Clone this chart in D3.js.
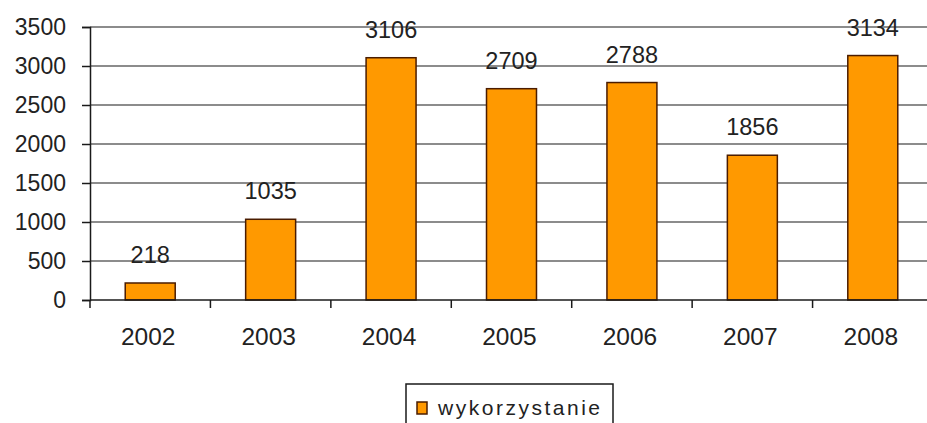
<!DOCTYPE html>
<html><head><meta charset="utf-8">
<script src="https://cdn.jsdelivr.net/npm/d3@7/dist/d3.min.js"></script>
<style>html,body{margin:0;padding:0;background:#fff;overflow:hidden}</style>
</head><body>
<svg id="c" width="927" height="423"></svg>
<script>
const categories = ["2002","2003","2004","2005","2006","2007","2008"];
const values = [218, 1035, 3106, 2709, 2788, 1856, 3134];
const yTicks = [0, 500, 1000, 1500, 2000, 2500, 3000, 3500];
const seriesName = "wykorzystanie";

(function () {
const svg = d3.select("#c");
const mLeft = 90, mRight = 933, mTop = 27, mBottom = 300;
const font = "'Liberation Sans', Arial, sans-serif";

const x = d3.scaleBand().domain(categories).range([mLeft, mRight])
  .paddingInner(0.585).paddingOuter(0.2925);
const y = d3.scaleLinear().domain([0, 3500]).range([mBottom, mTop]);

// gridlines
svg.append("g").selectAll("line").data(yTicks.filter(d => d > 0)).join("line")
  .attr("x1", mLeft).attr("x2", mRight)
  .attr("y1", d => y(d)).attr("y2", d => y(d))
  .attr("stroke", "#1a1a1a").attr("stroke-width", 1.2);

// y axis
const ya = svg.append("g").attr("transform", `translate(${mLeft},0)`)
  .call(d3.axisLeft(y).tickValues(yTicks).tickSize(8).tickPadding(16).tickFormat(d3.format("d")));
ya.select(".domain").attr("stroke", "#1a1a1a").attr("stroke-width", 1.5);
ya.selectAll(".tick line").attr("stroke", "#1a1a1a").attr("stroke-width", 1.5);
ya.selectAll("text").attr("font-family", font).attr("font-size", 23).attr("fill", "#222");

// bars
svg.append("g").selectAll("rect").data(values).join("rect")
  .attr("x", (d, i) => x(categories[i]))
  .attr("width", x.bandwidth())
  .attr("y", d => y(d))
  .attr("height", d => y(0) - y(d))
  .attr("fill", "#FF9900")
  .attr("stroke", "#4a1c00").attr("stroke-width", 1.5);

// x axis baseline
svg.append("line").attr("x1", mLeft).attr("x2", mRight)
  .attr("y1", y(0)).attr("y2", y(0)).attr("stroke", "#1a1a1a").attr("stroke-width", 1.5);

// x ticks at band boundaries
const bounds = d3.range(categories.length + 1).map(i => mLeft + i * x.step());
svg.append("g").selectAll("line").data(bounds).join("line")
  .attr("x1", d => d).attr("x2", d => d)
  .attr("y1", y(0)).attr("y2", y(0) + 8)
  .attr("stroke", "#1a1a1a").attr("stroke-width", 1.5);

// x labels
svg.append("g").selectAll("text").data(categories).join("text")
  .attr("x", d => x(d) + x.bandwidth() / 2 - 2)
  .attr("y", 345)
  .attr("text-anchor", "middle")
  .attr("font-family", font).attr("font-size", 24.5).attr("fill", "#222")
  .text(d => d);

// value labels
svg.append("g").selectAll("text").data(values).join("text")
  .attr("x", (d, i) => x(categories[i]) + x.bandwidth() / 2)
  .attr("y", d => y(d) - 20)
  .attr("text-anchor", "middle")
  .attr("font-family", font).attr("font-size", 23.5).attr("fill", "#222")
  .text(d => d);

// legend
const lg = svg.append("g");
lg.append("rect").attr("x", 406).attr("y", 384).attr("width", 207).attr("height", 50)
  .attr("fill", "#fff").attr("stroke", "#1a1a1a").attr("stroke-width", 1.5);
lg.append("rect").attr("x", 417).attr("y", 402).attr("width", 10).attr("height", 12)
  .attr("fill", "#FF9900").attr("stroke", "#4a1c00").attr("stroke-width", 1.5);
lg.append("text").attr("x", 438).attr("y", 415)
  .attr("font-family", font).attr("font-size", 21).attr("fill", "#222")
  .attr("textLength", 162).attr("lengthAdjust", "spacing")
  .text(seriesName);
})();
</script>
</body></html>
